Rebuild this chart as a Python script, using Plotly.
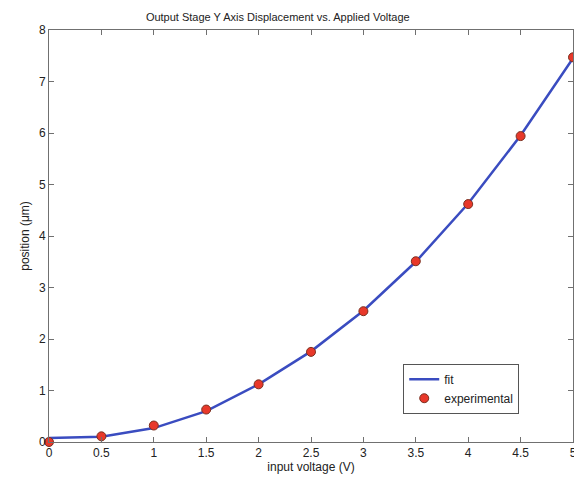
import plotly.graph_objects as go

voltage = [0, 0.5, 1, 1.5, 2, 2.5, 3, 3.5, 4, 4.5, 5]
position_exp = [0.0, 0.11, 0.32, 0.63, 1.12, 1.75, 2.54, 3.51, 4.62, 5.94, 7.47]
position_fit = [0.08, 0.10, 0.27, 0.60, 1.12, 1.76, 2.55, 3.50, 4.63, 5.95, 7.45]
x_ticks = [0, 0.5, 1, 1.5, 2, 2.5, 3, 3.5, 4, 4.5, 5]
x_tick_labels = ["0", "0.5", "1", "1.5", "2", "2.5", "3", "3.5", "4", "4.5", "5"]
y_ticks = [0, 1, 2, 3, 4, 5, 6, 7, 8]

fig = go.Figure()
fig.add_trace(go.Scatter(x=voltage, y=position_fit, mode="lines", name="fit",
                         line=dict(color="#3a4cc0", width=2.5), cliponaxis=False))
fig.add_trace(go.Scatter(x=voltage, y=position_exp, mode="markers", name="experimental",
                         cliponaxis=False,
                         marker=dict(color="#e8382a", size=9,
                                     line=dict(color="#7a3020", width=1))))

axis_common = dict(showline=True, linecolor="#707070", linewidth=1, mirror="ticks",
                   ticks="inside", ticklen=5, tickcolor="#707070", showgrid=False,
                   zeroline=False, tickfont=dict(size=12, color="#222"),
                   automargin=False, ticklabeloverflow="allow")

# the page body adds an 8px offset, so the figure is sized to fit the 582x477 window
fig.update_layout(
    width=574, height=469,
    margin=dict(l=41, r=9, t=22, b=35),
    paper_bgcolor="white", plot_bgcolor="white",
    font=dict(family="Liberation Sans, Arial, sans-serif", size=12, color="#222"),
    title=dict(text="Output Stage Y Axis Displacement vs. Applied Voltage",
               x=0.47, xanchor="center", y=0.981, yanchor="middle",
               font=dict(size=11)),
    xaxis=dict(range=[0, 5], tickvals=x_ticks, ticktext=x_tick_labels,
               title=dict(text="input voltage (V)", standoff=0, font=dict(size=12)),
               **axis_common),
    yaxis=dict(range=[0, 8], tickvals=y_ticks,
               title=dict(text="position (μm)", standoff=6, font=dict(size=12)),
               **axis_common),
    legend=dict(x=0.676, y=0.19, xanchor="left", yanchor="top",
                bordercolor="#555", borderwidth=1, bgcolor="white",
                font=dict(size=12), tracegroupgap=0, itemwidth=30),
    showlegend=True,
)
fig.write_html("out.html")
